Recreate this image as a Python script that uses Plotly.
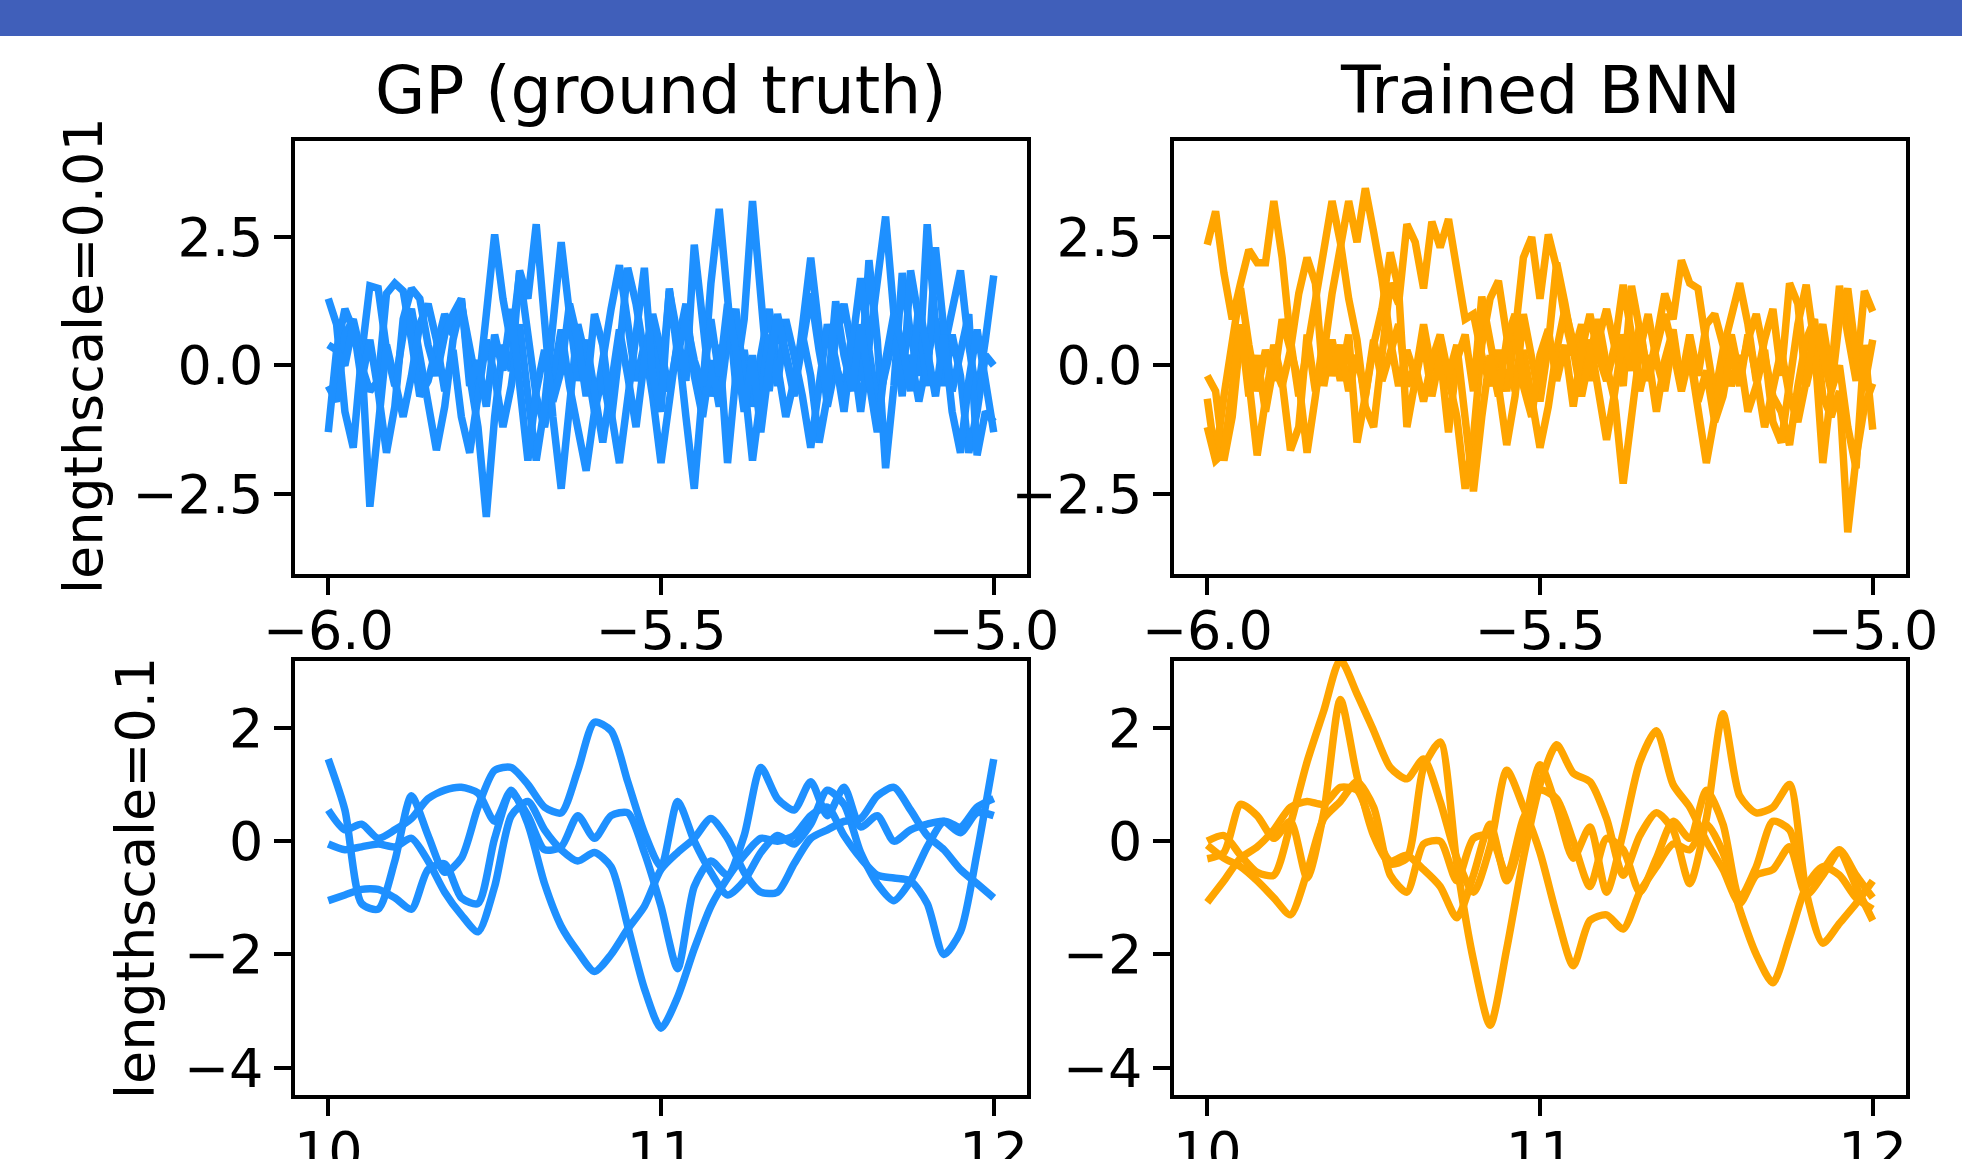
import numpy as np
import plotly.graph_objects as go

# ---------------- data ----------------
# top row: lengthscale = 0.01, x in [-6, -5]
x_top = np.linspace(-6.0, -5.0, 81)

gp_top_1 = [1.3, 0.8, -0.9, -1.6, 0.2, 1.55, 1.5, 0.3, -0.4, 0.6, 1.1, 0.2, -0.9, -1.65, -0.8, 0.5, 1.2, 0.4, -0.5, 1.0,
            2.55, 1.3, 0.4, 1.8, 0.6, -0.6, -1.2, -0.3, 0.7, -0.4, -1.3, -2.05, -0.9, 0.2, 1.1, 1.95, 0.9, -0.3, 0.4, -0.6,
            -1.9, -0.7, 0.5, -1.0, -2.4, -0.5, 1.6, 3.05, 1.2, -0.4, 0.3, -0.8, 0.2, 1.1, 0.0, -1.0, -0.3, 0.6, -0.2, -1.5,
            -0.6, 0.5, 1.2, 0.3, -0.9, 0.4, 1.5, 2.9, 1.0, -0.5, 0.2, -0.7, 0.1, 0.9, 0.3, 1.1, 1.85, 0.4, -0.6, 0.5, 1.75]
gp_top_2 = [0.4, 0.3, 1.1, 0.7, 0.0, -0.5, -0.3, 1.4, 1.6, 1.45, 0.5, -0.6, -0.3, 0.4, 1.0, 0.6, 1.3, -0.2, -1.2, -2.95,
            -1.0, 0.4, -0.1, 1.85, 1.3, 2.75, 0.9, -1.0, -2.4, -0.6, 0.8, 0.1, -0.9, -0.2, -1.1, 0.3, 1.9, 1.2, 0.2, 0.9,
            -0.4, 1.45, 0.6, -0.3, 2.35, 1.0, -0.6, 0.4, -1.9, -0.2, 0.9, 3.2, 1.4, -0.5, 0.8, 0.2, -0.6, 0.9, 2.1, 0.7,
            -0.8, 0.0, -0.5, 0.7, -0.3, 2.05, 0.5, -2.0, -0.4, 1.8, 0.6, -0.2, 2.75, 0.8, -0.4, 0.6, -0.2, -1.7, -0.9, 0.2, 0.0]
gp_top_3 = [-0.4, -0.7, 0.6, 0.9, 0.2, -2.75, -1.2, 0.4, -0.3, -1.0, -0.2, 0.8, 1.2, 0.5, -0.5, 0.3, -1.0, -1.7, -0.6, 0.5,
            -0.2, -1.2, -0.4, 0.8, -0.6, -1.85, -0.8, 0.9, 2.4, 1.0, -0.3, 0.5, -0.6, -1.5, -0.4, 0.7, -0.2, -1.2, 0.1, 1.0,
            0.3, -0.5, 0.4, 1.2, -0.2, -1.0, 0.1, -0.8, 0.5, 1.1, -0.3, -1.85, -0.6, 0.6, -0.4, 0.9, 0.2, -0.6, -1.6, -0.5,
            0.8, 0.1, -0.9, 0.4, 1.7, 0.3, -0.8, -0.1, 0.6, -0.6, 1.85, 0.9, -0.4, 2.3, 0.7, -0.5, 0.3, 1.0, -1.75, -0.9, -1.1]
gp_top_4 = [-1.3, 0.3, 0.0, 0.8, -0.3, 0.5, -0.5, -1.7, -0.8, 0.9, 1.5, 1.3, 0.4, -0.2, 0.6, 1.0, 1.3, -0.4, 0.1, -0.8,
            0.6, -0.1, 1.1, -0.3, -1.85, -0.5, 0.3, -0.7, -0.1, 1.2, 0.5, -0.6, 1.0, 0.4, -0.9, -1.9, -0.5, 0.6, 1.9, -0.2,
            -0.9, 1.5, 0.2, 0.9, 0.1, -0.4, 0.9, -0.2, 1.2, 0.3, -0.9, 0.2, -1.3, 0.0, 1.0, 0.3, -0.5, 0.4, 1.4, 0.3,
            -0.6, 1.25, 0.2, -0.5, 0.8, -0.3, -1.3, 0.1, 1.0, 0.4, -0.5, 1.2, 0.3, -0.6, 0.6, -0.9, -1.7, -0.3, 0.7, -0.4, -1.3]

bnn_top_1 = [2.35, 3.0, 1.8, 0.9, 1.6, 2.25, 2.0, 2.0, 3.2, 2.1, 0.5, -0.6, 0.3, 1.2, 2.1, 3.2, 2.4, 1.3, 0.5, -0.8,
             -1.2, 0.3, 1.6, 1.2, 2.75, 2.4, 1.5, 2.8, 2.3, 2.85, 1.9, 0.9, 1.0, 0.2, -0.4, 0.3, -0.5, 0.6, 2.1, 2.5,
             1.3, 2.55, 1.9, 0.9, 0.2, 0.8, -0.3, 0.5, 1.1, 0.3, -0.4, 1.55, 0.6, -0.2, 0.5, 1.4, 0.9, 2.05, 1.6, 1.5,
             0.4, -0.6, 0.3, 1.0, 1.6, 0.8, -0.3, 0.5, 1.1, -0.2, 1.6, 1.2, -0.4, 0.3, 0.8, -0.2, 1.55, 0.6, -0.3, 1.45, 1.05]
bnn_top_2 = [-0.2, -0.5, -1.85, -1.0, 0.6, -0.3, -1.75, -0.6, 0.4, -0.3, -1.65, -1.2, 0.6, -0.5, 0.2, 1.4, 2.3, 3.2, 2.4, 3.45,
             2.6, 1.7, 0.5, -0.4, 0.3, -0.2, 0.8, -0.1, 0.5, -0.3, -1.0, -2.4, -1.4, 0.4, 1.3, 1.65, 0.6, -0.5, 0.3, -0.6,
             -1.6, -0.8, 0.3, 1.1, 0.4, -0.2, 0.5, -0.4, -1.45, -0.5, 0.6, -0.1, 0.8, -0.3, 0.4, 1.0, 0.3, -0.5, 0.2, -0.8,
             -1.9, -1.0, 0.1, 0.6, -0.2, 0.5, 1.0, 0.2, -0.6, -0.9, -1.55, -0.4, 0.5, 0.9, -0.6, -1.0, -0.5, -3.25, -1.8, -0.8, -0.35]
bnn_top_3 = [-0.65, -1.8, -0.6, 0.5, 1.5, 0.4, -0.5, 0.3, -0.3, 0.9, 0.3, 1.4, 2.1, 1.6, -0.4, 0.5, -0.3, 0.6, -1.5, -0.6,
             0.4, 1.1, 2.2, 1.5, -1.2, -0.3, 0.5, -0.6, 0.2, -1.3, 0.1, 0.6, -0.5, 1.34, 0.5, -0.4, -1.55, -0.6, 1.0, 0.2,
             -0.7, 0.4, 2.0, 1.2, 0.3, -0.6, 0.2, 0.9, 0.0, -0.7, -2.3, -0.9, 0.3, 1.0, 0.1, -0.5, 0.5, -0.3, 0.6, -0.2,
             0.8, 1.0, 0.4, -0.4, 0.2, -0.9, -0.4, 0.3, -1.1, -1.5, -0.3, 0.8, 1.57, 0.4, -1.9, -0.6, 0.9, 1.5, 0.2, -0.4, 0.5]
bnn_top_4 = [-1.2, -1.85, -1.7, -0.3, 0.8, -0.6, 0.2, -0.9, 0.0, -0.4, 0.3, -0.3, -1.7, -0.6, 0.6, -0.2, 0.4, -0.5, 0.2, -0.6,
             0.5, -0.3, 0.2, 0.8, -0.4, 0.0, -0.7, 0.1, 0.6, -0.2, 0.4, -1.0, -2.45, -1.0, 0.2, -0.6, 0.5, 1.0, -0.4, -1.0,
             0.2, 0.7, -0.3, 0.4, -0.8, 0.3, 1.0, 0.2, -0.3, 0.4, 1.57, 0.6, -0.5, 0.2, -0.9, 0.1, 0.7, -0.4, 0.3, -0.7,
             -0.1, -1.1, -0.6, 0.3, -0.4, 0.6, -0.2, -1.2, -0.5, 0.3, -0.6, -1.1, -0.3, 0.7, 0.2, -0.5, 0.0, -1.2, -2.0, 0.4, -1.25]

# bottom row: lengthscale = 0.1, x in [10, 12]
x_bot = np.linspace(10.0, 12.0, 41)

gp_bot_1 = [1.45, 0.55, -1.1, -1.2, -0.35, 0.8, 0.1, -0.55, -0.3, 0.6, 1.25, 1.3, 1.0, 0.6, 0.5, 1.25, 2.1, 1.95, 1.05, 0.15,
            -0.45, 0.7, 0.0, -0.55, -0.95, -0.7, -0.2, 0.1, -0.05, 0.3, 0.9, 0.65, -0.2, -0.75, -1.05, -0.7, -0.1, 0.35, 0.25, 0.6, 0.75]
gp_bot_2 = [0.55, 0.2, 0.3, 0.05, 0.2, 0.4, 0.75, 0.9, 0.95, 0.85, 0.35, 0.9, 0.3, -0.75, -1.5, -1.95, -2.3, -2.0, -1.55, -1.15,
            -0.5, -0.2, 0.05, 0.4, 0.05, -0.55, -0.9, -0.9, -0.4, 0.05, 0.2, 0.35, 0.4, 0.8, 0.95, 0.55, 0.1, -0.15, -0.5, -0.75, -1.0]
gp_bot_3 = [-0.05, -0.15, -0.1, -0.05, -0.1, 0.05, -0.35, -0.9, -1.3, -1.6, -0.8, 0.45, 0.7, 0.2, -0.15, -0.35, -0.2, -0.45, -1.5, -2.6,
            -3.3, -2.75, -1.9, -1.15, -0.65, -0.25, 0.05, 0.0, 0.1, 0.45, 0.6, 0.1, -0.3, -0.6, -0.65, -0.7, -1.1, -2.0, -1.6, -0.2, 1.45]
gp_bot_4 = [-1.05, -0.95, -0.85, -0.85, -1.0, -1.2, -0.5, -0.4, -1.0, -1.1, 0.05, 0.85, 0.45, -0.15, -0.1, 0.45, 0.05, 0.45, 0.5, -0.2,
            -1.15, -2.25, -0.8, -0.35, -0.6, 0.1, 1.3, 0.75, 0.55, 1.05, 0.45, 0.95, 0.25, 0.45, 0.0, 0.2, 0.3, 0.35, 0.15, 0.5, 0.45]

bnn_bot_1 = [0.0, 0.1, -0.25, -0.55, -0.6, 0.3, 1.4, 2.3, 3.2, 2.6, 1.95, 1.3, 1.1, 1.45, 0.7, -0.3, -0.9, -0.1, 1.25, 0.6,
             -0.2, -1.3, -2.2, -1.4, -1.3, -1.55, -0.9, -0.45, -0.05, -0.15, 0.3, -0.2, -1.2, -2.0, -2.5, -1.7, -0.8, -0.45, -0.6, -1.0, -1.2]
bnn_bot_2 = [-0.31, -0.2, 0.65, 0.45, 0.05, 0.35, -0.65, 0.5, 2.5, 1.15, 0.1, -0.4, -0.3, 1.3, 1.75, -0.4, -2.1, -3.25, -1.9, -0.3,
             1.0, 1.7, 1.2, 1.05, 0.4, -0.6, 0.1, 0.5, 0.2, -0.75, 0.4, 2.25, 0.8, 0.5, 0.6, 1.0, -0.9, -1.8, -1.45, -1.1, -0.7]
bnn_bot_3 = [-0.07, -0.3, -0.45, -0.7, -1.0, -1.3, -0.55, 0.4, 0.7, 1.05, 0.6, -0.6, -0.9, -0.05, 0.0, -0.7, 0.05, 0.1, -0.6, 0.4,
             0.9, 0.75, 0.0, -0.8, 0.05, -0.15, -0.9, -0.3, 0.35, 0.05, 0.9, 0.3, -1.0, -0.45, 0.35, 0.2, -0.75, -0.5, -0.15, -0.6, -1.0]
bnn_bot_4 = [-1.08, -0.7, -0.3, -0.1, 0.2, 0.6, 0.7, 0.65, 0.95, 0.9, 0.2, -0.35, -0.25, -0.5, -0.8, -1.35, -0.6, 0.3, -0.7, 0.2,
             1.35, 0.6, -0.3, 0.25, -0.9, 0.15, 1.4, 1.95, 1.0, 0.6, 0.0, -0.5, -1.1, -0.6, -0.5, -0.1, -0.95, -0.6, -0.2, -0.8, -1.4]

col_titles = ["GP (ground truth)", "Trained BNN"]
row_labels = ["lengthscale=0.01", "lengthscale=0.1"]
top_ticks_x = [-6.0, -5.5, -5.0]
top_ticks_y = [-2.5, 0.0, 2.5]
bot_ticks_x = [10, 11, 12]
bot_ticks_y = [-4, -2, 0, 2]

GP_COLOR = "#1E90FF"
BNN_COLOR = "#FFA500"

# ---------------- figure ----------------
W, H = 1962, 1159
FONT = "DejaVu Sans"
TICK_SIZE = 54
TITLE_SIZE = 65

def px_x(v):
    return v / W

def px_y(v):
    return 1 - v / H

xdom_left = [px_x(295), px_x(1027)]
xdom_right = [px_x(1174), px_x(1906)]
ydom_top = [px_y(574), px_y(141)]
ydom_bot = [px_y(1095), px_y(661)]

fig = go.Figure()

panels = [
    ("x", "y", x_top, [gp_top_1, gp_top_2, gp_top_3, gp_top_4], GP_COLOR, "linear"),
    ("x2", "y2", x_top, [bnn_top_1, bnn_top_2, bnn_top_3, bnn_top_4], BNN_COLOR, "linear"),
    ("x3", "y3", x_bot, [gp_bot_1, gp_bot_2, gp_bot_3, gp_bot_4], GP_COLOR, "spline"),
    ("x4", "y4", x_bot, [bnn_bot_1, bnn_bot_2, bnn_bot_3, bnn_bot_4], BNN_COLOR, "spline"),
]
for xa, ya, xs, series, col, shape in panels:
    for s in series:
        line = dict(color=col, width=7.5, shape=shape)
        if shape == "spline":
            line["smoothing"] = 0.7
        fig.add_trace(go.Scatter(x=xs, y=s, mode="lines", xaxis=xa, yaxis=ya,
                                 line=line, showlegend=False, hoverinfo="skip"))

axis_common = dict(showline=True, linecolor="black", linewidth=3.5, mirror=True,
                   ticks="outside", ticklen=17, tickwidth=3.5, tickcolor="black",
                   showgrid=False, zeroline=False, automargin=False,
                   tickfont=dict(family=FONT, size=TICK_SIZE, color="black"))
XSO = -11
YSO = 0

fig.update_layout(
    template="none",
    width=W, height=H,
    margin=dict(l=0, r=0, t=0, b=0, autoexpand=False),
    paper_bgcolor="white", plot_bgcolor="white",
    showlegend=False,
    xaxis=dict(domain=xdom_left, anchor="y", range=[-6.05, -4.95], tickvals=top_ticks_x,
               tickformat=".1f", ticklabelstandoff=XSO, **axis_common),
    yaxis=dict(domain=ydom_top, anchor="x", range=[-4.06, 4.37], tickvals=top_ticks_y,
               tickformat=".1f", ticklabelstandoff=YSO, **axis_common),
    xaxis2=dict(domain=xdom_right, anchor="y2", range=[-6.05, -4.95], tickvals=top_ticks_x,
                tickformat=".1f", ticklabelstandoff=XSO, **axis_common),
    yaxis2=dict(domain=ydom_top, anchor="x2", range=[-4.06, 4.37], tickvals=top_ticks_y,
                tickformat=".1f", ticklabelstandoff=YSO, **axis_common),
    xaxis3=dict(domain=xdom_left, anchor="y3", range=[9.9, 12.1], tickvals=bot_ticks_x,
                ticklabelstandoff=XSO, **axis_common),
    yaxis3=dict(domain=ydom_bot, anchor="x3", range=[-4.48, 3.18], tickvals=bot_ticks_y,
                ticklabelstandoff=YSO, **axis_common),
    xaxis4=dict(domain=xdom_right, anchor="y4", range=[9.9, 12.1], tickvals=bot_ticks_x,
                ticklabelstandoff=XSO, **axis_common),
    yaxis4=dict(domain=ydom_bot, anchor="x4", range=[-4.48, 3.18], tickvals=bot_ticks_y,
                ticklabelstandoff=YSO, **axis_common),
)

# top banner
fig.add_shape(type="rect", xref="paper", yref="paper", x0=0, x1=1, y0=px_y(36), y1=1,
              fillcolor="#405FBA", line=dict(width=0), layer="above")

# column titles
fig.add_annotation(text=col_titles[0], xref="paper", yref="paper",
                   x=(xdom_left[0] + xdom_left[1]) / 2, y=px_y(91),
                   xanchor="center", yanchor="middle", showarrow=False,
                   font=dict(family=FONT, size=TITLE_SIZE, color="black"))
fig.add_annotation(text=col_titles[1], xref="paper", yref="paper",
                   x=(xdom_right[0] + xdom_right[1]) / 2, y=px_y(91),
                   xanchor="center", yanchor="middle", showarrow=False,
                   font=dict(family=FONT, size=TITLE_SIZE, color="black"))
# row labels
fig.add_annotation(text=row_labels[0], xref="paper", yref="paper",
                   x=px_x(84), y=px_y(356), textangle=-90,
                   xanchor="center", yanchor="middle", showarrow=False,
                   font=dict(family=FONT, size=TICK_SIZE, color="black"))
fig.add_annotation(text=row_labels[1], xref="paper", yref="paper",
                   x=px_x(136), y=px_y(878), textangle=-90,
                   xanchor="center", yanchor="middle", showarrow=False,
                   font=dict(family=FONT, size=TICK_SIZE, color="black"))

fig.write_html("out.html", config={"displayModeBar": False},
               post_script="document.body.style.margin='0';document.body.style.overflow='hidden';")
